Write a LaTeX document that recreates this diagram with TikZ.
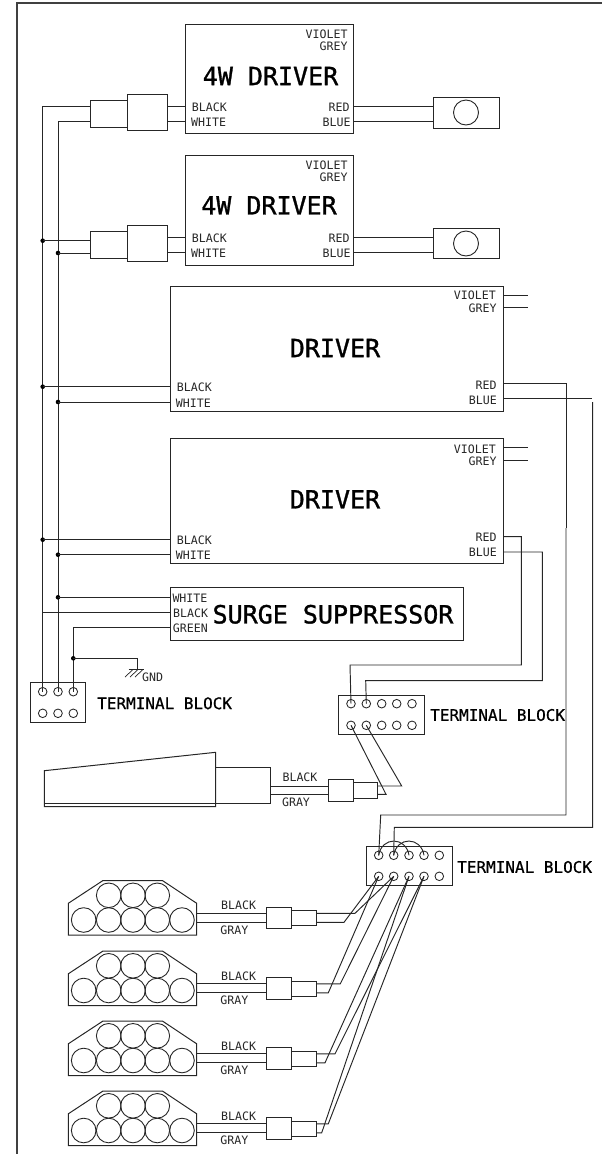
\documentclass[tikz,border=0pt]{standalone}
\usepackage{fontspec}
\setmainfont{DejaVu Sans Mono}
\newfontfamily\titlefont[FakeBold=1.2]{DejaVu Sans Mono}
\newfontfamily\tbfont[FakeBold=0.7]{DejaVu Sans Mono}
\usetikzlibrary{calc}
\definecolor{ink}{HTML}{262626}
\tikzset{
  wire/.style={draw=ink,line width=0.95pt},
  box/.style={draw=ink,line width=1pt,rectangle,inner sep=0pt,outer sep=0pt},
  pin/.style={draw=ink,line width=0.85pt,circle,inner sep=0pt,outer sep=0pt,minimum size=8.6pt},
  lampcirc/.style={draw=ink,line width=0.9pt,circle,inner sep=0pt,outer sep=0pt,minimum size=24.6pt},
  dot/.style={fill=black,circle,inner sep=0pt,outer sep=0pt,minimum size=4.6pt},
  small/.style={inner sep=0pt,text=ink,font=\fontsize{11.6}{12}\selectfont},
  title/.style={inner sep=0pt,text=black,font=\fontsize{25}{26}\selectfont\titlefont},
  tblabel/.style={inner sep=0pt,text=black,font=\fontsize{16}{17}\selectfont\tbfont},
}
\newcommand{\bx}[5]{%
  \pgfmathsetmacro\myW{#4-(#2)}\pgfmathsetmacro\myH{#5-(#3)}%
  \node[box,minimum width=\myW pt,minimum height=\myH pt] (#1) at ({(#2+#4)/2},{(#3+#5)/2}) {};}
\begin{document}
\begin{tikzpicture}[x=1pt,y=-1pt]
\useasboundingbox (0,0) rectangle (602,1154);
\draw[draw=black!75,line width=1.3pt] (17,1154) -- (17,3) -- (602,3);

% drivers
\bx{dra}{185.5}{24}{353.7}{133}
\bx{drb}{185.5}{155}{353.7}{265}
\bx{drc}{170.5}{286.7}{503}{411.5}
\bx{drd}{170.5}{438.7}{503}{563.7}
\bx{sup}{170.5}{587.7}{463.7}{640}
% plug connectors
\bx{ca1}{90.5}{100}{127.5}{127}
\bx{ca2}{127.5}{94.3}{167.5}{130}
\bx{cb1}{90.5}{231.3}{127.5}{258}
\bx{cb2}{127.5}{225.3}{167.5}{261}
% LED modules
\bx{lma}{433}{97.3}{499.7}{128}
\bx{lmb}{433}{228}{499.7}{258.7}
\node[lampcirc,minimum size=25pt] (lca) at (466,112.5) {};
\node[lampcirc,minimum size=25pt] (lcb) at (466,243.5) {};
% terminal blocks
\bx{tba}{30}{682.3}{85.3}{722}
\bx{tbb}{338.7}{695}{424}{734}
\bx{tbc}{366}{846}{452}{885.3}
\foreach \n/\x in {a/42.7,b/58,c/73.3}{
  \node[pin] (ta\n) at (\x,691.7) {};
  \node[pin] (tl\n) at (\x,713.3) {};
}
\foreach \n/\x in {1/351,2/366.3,3/381.7,4/396.7,5/412}{
  \node[pin] (tbt\n) at (\x,703.7) {};
  \node[pin] (tbl\n) at (\x,725.3) {};
}
\foreach \n/\x in {1/378.7,2/393.7,3/409,4/424,5/439.3}{
  \node[pin] (tct\n) at (\x,855.3) {};
  \node[pin] (tcl\n) at (\x,876.3) {};
}

% power buses
\draw[wire] (ca1.west |- 0,106.5) -| (taa.center);
\draw[wire] (ca1.west |- 0,121.7) -| (tab.center);
\foreach \n/\y in {1/240.7,2/386.7,3/539.7}{
  \node[dot] (ja\n) at (taa |- 0,\y) {};
}
\foreach \n/\y in {1/253,2/402,3/554.7,4/597.3}{
  \node[dot] (jb\n) at (tab |- 0,\y) {};
}
\draw[wire] (ja1.center) -- (cb1.west |- ja1);
\draw[wire] (jb1.center) -- (cb1.west |- jb1);
\draw[wire] (ja2.center) -- (drc.west |- ja2);
\draw[wire] (jb2.center) -- (drc.west |- jb2);
\draw[wire] (ja3.center) -- (drd.west |- ja3);
\draw[wire] (jb3.center) -- (drd.west |- jb3);
\draw[wire] (jb4.center) -- (sup.west |- jb4);
\draw[wire] (taa |- 0,612.7) -- (sup.west |- 0,612.7);
\draw[wire] (sup.west |- 0,627.3) -| (tac.center);
\node[dot] (jg) at (tac |- 0,658.3) {};
\coordinate (gnd) at (137.3,669.5);
\draw[wire] (jg.center) -| (gnd);
\draw[wire] (128.5,669.5) -- (144,669.5);
\foreach \x in {133,138,143}{\draw[draw=ink,line width=0.7pt] (\x,669.5) -- ++(-8,7.5);}

% connector to driver stubs
\draw[wire] (ca2.east |- 0,106.5) -- (dra.west |- 0,106.5);
\draw[wire] (ca2.east |- 0,121.7) -- (dra.west |- 0,121.7);
\draw[wire] (cb2.east |- 0,237.5) -- (drb.west |- 0,237.5);
\draw[wire] (cb2.east |- 0,252.7) -- (drb.west |- 0,252.7);
\draw[wire] (dra.east |- 0,106.5) -- (lma.west |- 0,106.5);
\draw[wire] (dra.east |- 0,121.7) -- (lma.west |- 0,121.7);
\draw[wire] (drb.east |- 0,237.7) -- (lmb.west |- 0,237.7);
\draw[wire] (drb.east |- 0,252.7) -- (lmb.west |- 0,252.7);
\foreach \b/\y in {drc/295,drc/307.3,drd/447.3,drd/460}{
  \draw[wire] (\b.east |- 0,\y) -- (528,\y);
}

% driver outputs to terminal blocks
\coordinate (rc1) at (566.7,383.3);
\coordinate (rc2) at (566.7,528);
\coordinate (rc3) at (566,815);
\coordinate (rc4) at (380.7,815);
\draw[wire] (drc.east |- rc1) -- (rc1) -- (rc2);
\draw[wire] (566,528) -- (rc3) -- (rc4) -- (tct1.center);
\coordinate (bc1) at (592,398.7);
\coordinate (bc2) at (592.7,402);
\coordinate (bc3) at (592.7,827.3);
\coordinate (bc4) at (394.3,827.3);
\draw[wire] (drc.east |- bc1) -- (bc1);
\draw[wire] (bc2) -- (bc3) -- (bc4) -- (tct2.center);
\coordinate (rd1) at (521.3,536.7);
\coordinate (rd2) at (521.3,665);
\coordinate (rd3) at (350,665);
\draw[wire] (drd.east |- rd1) -- (rd1) -- (rd2) -- (rd3) -- (tbt1.center);
\coordinate (bd1) at (542.3,552);
\coordinate (bd2) at (542.3,680.7);
\coordinate (bd3) at (365.7,680.7);
\draw[wire] (drd.east |- bd1) -- (bd1) -- (bd2) -- (bd3) -- (tbt2.center);
% jumpers
\draw[wire] (tct1.center) .. controls +(3,-19) and +(-3,-19) .. (tct3.center);
\draw[wire] (tct2.center) .. controls +(3,-19) and +(-3,-19) .. (tct4.center);

% pedal
\draw[box] (44.3,770.7) -- (215.7,752.3) -- (215.7,806.7) -- (44.3,806.7) -- cycle;
\draw[box] (44.3,803.3) -- (215.7,803.3);
\bx{pb1}{215.7}{767.3}{270.7}{803.3}
\bx{pb2}{328.3}{779.3}{353.3}{801}
\bx{pb3}{353.3}{782.3}{377.3}{798}
\draw[wire] (pb1.east |- 0,786) -- (pb2.west |- 0,786);
\draw[wire] (pb1.east |- 0,794.3) -- (pb2.west |- 0,794.3);
\coordinate (pu) at (401.7,786);
\coordinate (pl) at (386,794.3);
\draw[wire] (pb3.east |- pu) -- (pu) -- (tbl2.center);
\draw[wire] (pb3.east |- pl) -- (pl) -- (tbl1.center);

% lamp arrays
\foreach \k/\dy/\ux/\up/\lx/\lp in {1/0/355/2/344/1,2/70.5/340.3/2/328.3/1,3/140.5/335/4/325/3,4/210.5/328.3/4/321.7/3}{
  \draw[box] (68.3,903.3+\dy) -- (102.7,880.7+\dy) -- (162.7,880.7+\dy) -- (196.7,903.3+\dy) -- (196.7,935+\dy) -- (68.3,935+\dy) -- cycle;
  \foreach \x in {83.7,108.7,133,157.3,182}{\node[lampcirc] at (\x,920+\dy) {};}
  \foreach \x in {108.7,133,157.3}{\node[lampcirc] at (\x,895.3+\dy) {};}
  \coordinate (lamp\k) at (196.7,913.3+\dy);
  \coordinate (lamq\k) at (196.7,922.3+\dy);
  \bx{lb\k}{266.7}{907.3+\dy}{291.3}{928.7+\dy}
  \bx{lc\k}{291.3}{910.7+\dy}{316.3}{925.7+\dy}
  \draw[wire] (lamp\k) -- (lb\k.west |- lamp\k);
  \draw[wire] (lamq\k) -- (lb\k.west |- lamq\k);
  \coordinate (lu\k) at (\ux,913.3+\dy);
  \coordinate (ll\k) at (\lx,922.3+\dy);
  \draw[wire] (lc\k.east |- lu\k) -- (lu\k) -- (tcl\up.center);
  \draw[wire] (lc\k.east |- ll\k) -- (ll\k) -- (tcl\lp.center);
  \node[small] (lbk\k) at (238.7,905.3+\dy) {BLACK};
  \node[small] (lgy\k) at (234.3,930+\dy) {GRAY};
}

% labels
\node[title] (t1) at (270.5,76) {4W DRIVER};
\node[title] (t2) at (269,205.3) {4W DRIVER};
\node[title] (t3) at (335,348) {DRIVER};
\node[title] (t4) at (335,499.3) {DRIVER};
\node[title] (t5) at (333,614.3) {SURGE SUPPRESSOR};
\foreach \nm/\x/\y in {a/191.7/107.5,b/191.7/238.7,c/176.7/387.7,d/176.7/540.7}{
  \node[small,anchor=west] (blk\nm) at (\x,\y) {BLACK};
}
\foreach \nm/\x/\y in {a/191/122,b/191/253.7,c/175.7/403,d/175.7/555.3}{
  \node[small,anchor=west] (wht\nm) at (\x,\y) {WHITE};
}
\foreach \nm/\x/\y in {a/347.7/34,b/347.7/165,c/496/295.7,d/496/449}{
  \node[small,anchor=east] (vio\nm) at (\x,\y) {VIOLET};
}
\foreach \nm/\x/\y in {a/347.7/46.3,b/347.7/177.3,c/496.7/308,d/496.7/461}{
  \node[small,anchor=east] (gry\nm) at (\x,\y) {GREY};
}
\foreach \nm/\x/\y in {a/349.7/107.5,b/349.7/238.7,c/496.7/385,d/496.7/537}{
  \node[small,anchor=east] (red\nm) at (\x,\y) {RED};
}
\foreach \nm/\x/\y in {a/350.7/122,b/350.7/253.7,c/497/400,d/497/552.3}{
  \node[small,anchor=east] (blu\nm) at (\x,\y) {BLUE};
}
\node[small,anchor=west] (swh) at (172.3,598) {WHITE};
\node[small,anchor=west] (sbk) at (173,613.7) {BLACK};
\node[small,anchor=west] (sgr) at (172.7,628.7) {GREEN};
\node[small,anchor=west] (gndl) at (142,677.7) {GND};
\node[small] (pbk) at (300,777) {BLACK};
\node[small] (pgy) at (296,802) {GRAY};
\node[tblabel,anchor=west] (tl1) at (97,703.3) {TERMINAL BLOCK};
\node[tblabel,anchor=west] (tl2) at (430,715) {TERMINAL BLOCK};
\node[tblabel,anchor=west] (tl3) at (457,867) {TERMINAL BLOCK};
\end{tikzpicture}
\end{document}
